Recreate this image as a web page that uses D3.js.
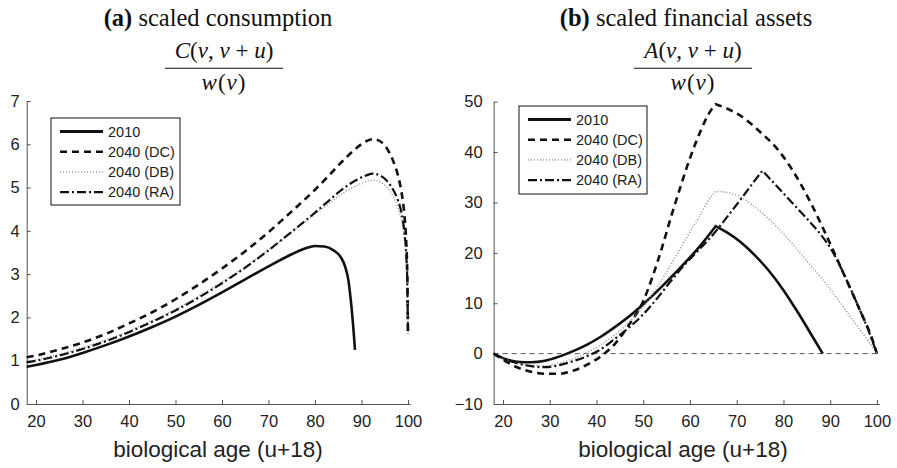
<!DOCTYPE html>
<html><head><meta charset="utf-8">
<script src="https://cdn.jsdelivr.net/npm/d3@7"></script>
<style>body{margin:0;background:#fff}</style>
</head><body><svg id="c" width="897" height="468"></svg>
<script>
// ---------- data ----------
const seriesNames = ["2010", "2040 (DC)", "2040 (DB)", "2040 (RA)"];
const xTicks = [20, 30, 40, 50, 60, 70, 80, 90, 100];
const consTicks = [0, 1, 2, 3, 4, 5, 6, 7];
const assetTicks = [-10, 0, 10, 20, 30, 40, 50];

// (a) scaled consumption
const consAge2010 = [18,20,25,30,35,40,45,50,55,60,65,70,75,78,80,82,84,85.5,86.5,87.2,87.7,88.1,88.4,88.6];
const cons2010    = [0.86,0.9,1.02,1.18,1.36,1.56,1.78,2.02,2.29,2.58,2.88,3.18,3.46,3.6,3.65,3.64,3.55,3.4,3.17,2.85,2.4,1.95,1.55,1.25];
const consAge2040 = [18,20,25,30,35,40,45,50,55,60,65,70,75,80,83,86,89,91,92.5,94,95.5,96.8,97.8,98.6,99.2,99.6,99.85,100];
const consDC = [1.08,1.12,1.26,1.42,1.62,1.86,2.12,2.42,2.76,3.13,3.53,3.97,4.45,4.95,5.28,5.62,5.92,6.07,6.12,6.07,5.9,5.62,5.3,4.9,4.4,3.8,3.0,1.66];
const consDB = [0.97,1.02,1.15,1.3,1.48,1.69,1.93,2.19,2.49,2.82,3.17,3.56,3.97,4.38,4.63,4.87,5.05,5.14,5.17,5.13,5.0,4.8,4.55,4.25,3.85,3.3,2.6,1.6];
const consRA = [0.96,1.0,1.12,1.27,1.45,1.66,1.9,2.16,2.46,2.79,3.15,3.55,3.98,4.42,4.7,4.97,5.18,5.28,5.32,5.28,5.15,4.95,4.72,4.42,4.0,3.5,2.8,1.66];

// (b) scaled financial assets
const assetAge2010 = [18,20,23,26,29,32,35,38,41,44,47,50,53,56,59,62,65.5,68,71,74,77,80,83,86,88.4];
const asset2010    = [0,-0.9,-1.6,-1.7,-1.4,-0.6,0.5,1.8,3.4,5.3,7.4,9.8,12.4,15.2,18.1,21.2,25.3,24.0,22.0,19.4,16.3,12.6,8.3,3.7,0];
const assetAgeDC = [18,20,23,26,29,32,35,38,41,44,47,50,52,54,56,58,60,62,64,65.5,68,71.6,75,78.7,82,85.8,89,92.9,96.5,98.5,100];
const assetDC    = [0,-1.2,-2.7,-3.6,-4.0,-4.0,-3.4,-2.2,-0.5,2.0,5.8,10.4,15.3,21.0,27.3,33.2,38.8,43.6,47.6,49.5,48.6,46.7,44.0,40.6,36.3,30.0,23.8,15.8,8.3,4.1,0];
const assetAgeDB = [18,20,23,26,29,32,35,38,41,44,47,50,53,56,59,62,64,65.5,68,71,74,77,80,83,86,89,92,95,97,100];
const assetDB    = [0,-0.9,-1.8,-2.3,-2.4,-1.9,-1.0,0.2,1.8,3.8,6.2,9.3,13.2,17.8,22.6,27.2,30.5,32.2,32.0,31.0,29.0,26.6,23.8,20.6,17.3,14.0,10.3,6.4,4.0,0];
const assetAgeRA = [18,20,23,26,29,32,35,38,41,44,47,50,53,56,59,62,65,68,71,73,75.5,78,80,82,85,88,90,92,94,96,98,100];
const assetRA    = [0,-0.9,-1.9,-2.5,-2.7,-2.3,-1.5,-0.5,0.9,3.0,5.2,7.8,11.0,14.5,17.8,20.7,23.7,27.2,30.8,33.3,36.3,33.8,31.8,29.8,26.8,23.6,21.0,17.6,13.6,9.4,5.0,0];
const assetKinks = [65.5, 65.5, 65.5, 75.5];

// ---------- drawing ----------
const svg = d3.select("#c");
const styles = [
  {stroke:"#111", width:2.6, dash:null},
  {stroke:"#111", width:2.6, dash:"7,5"},
  {stroke:"#888", width:1.4, dash:"1,2"},
  {stroke:"#111", width:2.2, dash:"9,3,2,3"}
];
const axisColor = "#555", textColor = "#222";
const sans = "Liberation Sans, Arial, Helvetica, sans-serif";
const serif = "Liberation Serif, Times New Roman, serif";

function curvePath(ages, vals, kink, x, y) {
  const pts = ages.map((a, i) => [a, vals[i]]);
  const line = d3.line().x(d => x(d[0])).y(d => y(d[1])).curve(d3.curveMonotoneX);
  if (kink == null) return line(pts);
  const k = ages.indexOf(kink);
  return line(pts.slice(0, k + 1)) + line(pts.slice(k)).replace(/^M/, "L");
}

function panel(opt) {
  const g = svg.append("g");
  const x = d3.scaleLinear().domain([18, 100.5]).range(opt.xr);
  const y = d3.scaleLinear().domain(opt.yd).range(opt.yr);

  if (opt.zero) {
    g.append("line").attr("x1", x(18)).attr("x2", x(100.5)).attr("y1", y(0)).attr("y2", y(0))
      .attr("stroke", "#444").attr("stroke-width", 0.9).attr("stroke-dasharray", "5,4");
  }

  const xa = g.append("g").attr("transform", `translate(0,${opt.yr[0]})`)
    .call(d3.axisBottom(x).tickValues(xTicks).tickSizeInner(-4).tickSizeOuter(0).tickPadding(11.5));
  const ya = g.append("g").attr("transform", `translate(${opt.xr[0]},0)`)
    .call(d3.axisLeft(y).tickValues(opt.yt).tickSizeInner(-4).tickSizeOuter(0).tickPadding(opt.ypad)
      .tickFormat(d => d < 0 ? "\u2212" + Math.abs(d) : d));
  [xa, ya].forEach(a => {
    a.selectAll("path,line").attr("stroke", axisColor);
    a.selectAll("text").attr("fill", textColor).style("font-family", sans).style("font-size", "16.5px");
  });

  opt.series.forEach((s, i) => {
    g.append("path").attr("d", curvePath(s.ages, s.vals, s.kink, x, y))
      .attr("fill", "none").attr("stroke", styles[i].stroke).attr("stroke-width", styles[i].width)
      .attr("stroke-dasharray", styles[i].dash);
  });

  // legend
  const L = opt.legend;
  g.append("rect").attr("x", L.x).attr("y", L.y).attr("width", L.w).attr("height", L.h)
    .attr("fill", "#fff").attr("stroke", "#111").attr("stroke-width", 1);
  seriesNames.forEach((n, i) => {
    const yy = L.y + 13.5 + i * 20.2;
    g.append("line").attr("x1", L.x + 9).attr("x2", L.x + 52).attr("y1", yy).attr("y2", yy)
      .attr("stroke", styles[i].stroke).attr("stroke-width", i === 0 ? 3 : styles[i].width)
      .attr("stroke-dasharray", styles[i].dash);
    g.append("text").attr("x", L.x + 57).attr("y", yy).attr("dy", "0.36em")
      .attr("fill", textColor).style("font-family", sans).style("font-size", "14.5px").text(n);
  });

  // x label
  g.append("text").attr("x", opt.cx).attr("y", 457).attr("text-anchor", "middle")
    .attr("fill", textColor).style("font-family", sans).style("font-size", "22.5px").text("biological age (u+18)");

  // titles
  const t = g.append("text").attr("x", opt.tx).attr("y", 26).attr("text-anchor", "middle")
    .style("font-family", serif).style("font-size", "24.5px").attr("fill", "#111");
  t.append("tspan").style("font-weight", "bold").text(opt.tag);
  t.append("tspan").text(" " + opt.title);

  const num = g.append("text").attr("x", opt.fx).attr("y", 58).attr("text-anchor", "middle")
    .style("font-family", serif).style("font-size", "23px").style("white-space", "pre").attr("fill", "#111");
  [[opt.letter, 1], ["(", 0], ["v", 1], [", ", 0], ["v", 1], [" + ", 0], ["u", 1], [")", 0]].forEach(([s, it]) => {
    num.append("tspan").style("font-style", it ? "italic" : "normal").text(s);
  });
  g.append("line").attr("x1", opt.fx - 59).attr("x2", opt.fx + 59).attr("y1", 68.3).attr("y2", 68.3)
    .attr("stroke", "#111").attr("stroke-width", 1.1);
  const den = g.append("text").attr("x", opt.fx).attr("y", 90).attr("text-anchor", "middle")
    .style("font-family", serif).style("font-size", "23px").style("letter-spacing", "1px").attr("fill", "#111");
  [["w", 1], ["(", 0], ["v", 1], [")", 0]].forEach(([s, it]) => {
    den.append("tspan").style("font-style", it ? "italic" : "normal").text(s);
  });
}

panel({
  xr: [26.7, 410.3], yd: [0, 7], yr: [404, 101], yt: consTicks, ypad: 7,
  series: [
    {ages: consAge2010, vals: cons2010},
    {ages: consAge2040, vals: consDC},
    {ages: consAge2040, vals: consDB},
    {ages: consAge2040, vals: consRA}
  ],
  legend: {x: 51, y: 118, w: 129, h: 87},
  cx: 218, tx: 218, fx: 224, tag: "(a)", title: "scaled consumption", letter: "C"
});

panel({
  xr: [493.65, 879.3], yd: [-10, 50], yr: [404, 101.7], yt: assetTicks, ypad: 11,
  zero: true,
  series: [
    {ages: assetAge2010, vals: asset2010, kink: assetKinks[0]},
    {ages: assetAgeDC, vals: assetDC, kink: assetKinks[1]},
    {ages: assetAgeDB, vals: assetDB, kink: assetKinks[2]},
    {ages: assetAgeRA, vals: assetRA, kink: assetKinks[3]}
  ],
  legend: {x: 519, y: 106, w: 128, h: 88},
  cx: 683, tx: 686, fx: 693, tag: "(b)", title: "scaled financial assets", letter: "A"
});
</script>
</body></html>
